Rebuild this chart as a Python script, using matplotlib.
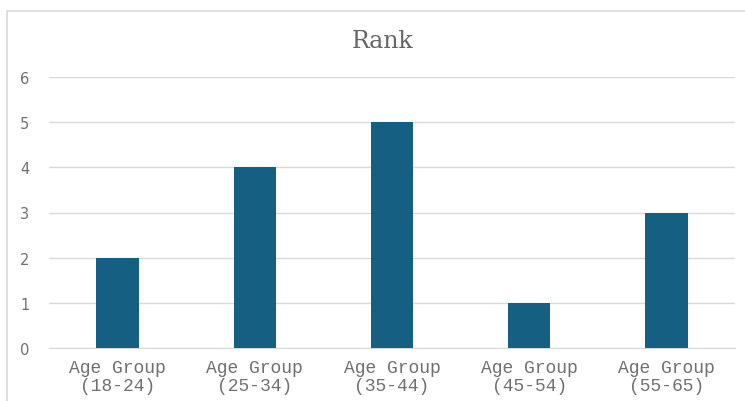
import matplotlib.pyplot as plt
from matplotlib.patches import Rectangle
import numpy as np

categories = ['Age Group\n(18-24)', 'Age Group\n(25-34)', 'Age Group\n(35-44)',
              'Age Group\n(45-54)', 'Age Group\n(55-65)']
rank = [2, 4, 5, 1, 3]


def main():
    fig = plt.figure(figsize=(7.45, 4.02), dpi=100)
    ax = fig.add_axes([49 / 745, (402 - 349) / 402, 686 / 745, (349 - 78) / 402])

    # outer chart border (cropped on right/bottom like the reference)
    fig.patches.append(Rectangle((7 / 745, -0.1), 1.0, (402 - 12) / 402 + 0.1,
                                 transform=fig.transFigure, fill=False,
                                 edgecolor='#d9d9d9', linewidth=1.2))

    x = np.arange(len(categories))
    ax.bar(x, rank, width=0.31, color='#156082', zorder=3)

    ax.set_xlim(-0.5, len(categories) - 0.5)
    ax.set_ylim(0, 6)
    ax.set_yticks(range(0, 7))
    ax.grid(axis='y', color='#d9d9d9', linewidth=1, zorder=0)
    for s in ['top', 'right', 'left']:
        ax.spines[s].set_visible(False)
    ax.spines['bottom'].set_color('#d9d9d9')
    ax.tick_params(axis='both', length=0)
    ax.tick_params(axis='y', pad=14, labelcolor='#6f6f6f', labelsize=10.5)

    ax.set_xticks(x)
    ax.set_xticklabels(categories, family='Liberation Mono', fontsize=13,
                       color='#707070', linespacing=1.05)
    ax.tick_params(axis='x', pad=8)

    fig.text(0.514, 1 - 41 / 402, 'Rank', ha='center', va='center',
             family='DejaVu Serif', fontsize=17, color='#666666',
             fontweight='light')

    fig.savefig('out.png', dpi=100)


if __name__ == '__main__':
    main()
